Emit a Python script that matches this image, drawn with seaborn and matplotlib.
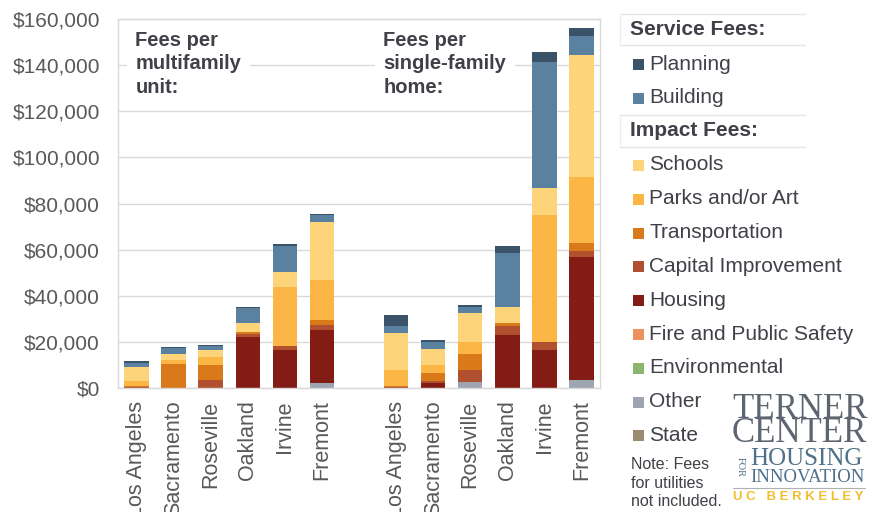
import matplotlib
matplotlib.use("Agg")
import matplotlib.pyplot as plt
import matplotlib.patches as mpatches
import matplotlib.lines as mlines
from matplotlib.ticker import FuncFormatter
import numpy as np
import pandas as pd
import seaborn as sns

# ---------------- data ----------------
cities = ["Los Angeles", "Sacramento", "Roseville", "Oakland", "Irvine", "Fremont"]
slots = ["MF " + c for c in cities] + ["gap"] + ["SF " + c for c in cities]
bar_keys = ["MF " + c for c in cities] + ["SF " + c for c in cities]

# values: 6 multifamily bars, then 6 single-family bars
state = [0, 0, 0, 0, 0, 0, 0, 0, 0, 0, 0, 0]
other = [0, 0, 0, 0, 0, 2200, 0, 0, 2600, 0, 0, 3600]
environmental = [0, 0, 0, 0, 0, 0, 0, 0, 0, 0, 0, 0]
fire = [0, 0, 0, 0, 0, 0, 0, 0, 0, 0, 0, 0]
housing = [0, 0, 0, 22100, 16600, 22800, 0, 2300, 0, 22800, 16600, 53000]
capital = [300, 0, 3500, 1200, 1600, 2200, 300, 600, 5100, 4000, 3300, 2900]
transport = [400, 10300, 6600, 1100, 0, 2200, 400, 3800, 6900, 1300, 0, 3200]
parks = [2200, 1700, 3200, 0, 25600, 17300, 7200, 3200, 5400, 0, 54900, 28600]
schools = [6200, 2900, 3200, 3600, 6500, 25300, 15900, 7200, 12700, 6900, 11800, 53000]
building = [1900, 2300, 1500, 6500, 11300, 2900, 3000, 2900, 2400, 23500, 54600, 8500]
planning = [700, 500, 500, 500, 1000, 600, 5000, 1000, 1000, 3000, 4600, 3200]

stack_order = ["State", "Other", "Environmental", "Fire and Public Safety", "Housing",
               "Capital Improvement", "Transportation", "Parks and/or Art", "Schools",
               "Building", "Planning"]
series = {
    "State": state, "Other": other, "Environmental": environmental,
    "Fire and Public Safety": fire, "Housing": housing,
    "Capital Improvement": capital, "Transportation": transport,
    "Parks and/or Art": parks, "Schools": schools,
    "Building": building, "Planning": planning,
}
colors = {
    "Planning": "#3b5368", "Building": "#5a82a0", "Schools": "#fdd47a",
    "Parks and/or Art": "#fbb645", "Transportation": "#d9791a",
    "Capital Improvement": "#b1502f", "Housing": "#831c14",
    "Fire and Public Safety": "#ec9160", "Environmental": "#8cb66e",
    "Other": "#9ca5b0", "State": "#9b8b70",
}
legend_service = ["Planning", "Building"]
legend_impact = ["Schools", "Parks and/or Art", "Transportation", "Capital Improvement",
                 "Housing", "Fire and Public Safety", "Environmental", "Other", "State"]
ytick_vals = [0, 20000, 40000, 60000, 80000, 100000, 120000, 140000, 160000]

# ---------------- style ----------------
sns.set_theme(style="white")
plt.rcParams["font.family"] = ["Liberation Sans", "DejaVu Sans"]
TXT = "#404048"
TICK = "#595959"
GRID = "#d9d9d9"

fig = plt.figure(figsize=(8.69, 5.12), dpi=100)
ax = fig.add_axes([118 / 869, 1 - 388 / 512, (600 - 118) / 869, (388 - 19) / 512])

# cumulative tops, drawn from the tallest layer down
cum = np.zeros(len(bar_keys))
cums = {}
for name in stack_order:
    cum = cum + np.array(series[name], dtype=float)
    cums[name] = cum.copy()

for name in reversed(stack_order):
    df = pd.DataFrame({"slot": bar_keys, "value": cums[name]})
    sns.barplot(data=df, x="slot", y="value", order=slots, color=colors[name],
                saturation=1, width=0.66, errorbar=None, ax=ax, zorder=2,
                linewidth=0)

ax.set_xlim(-0.5, 12.5)
ax.set_ylim(0, 160000)
ax.set_yticks(ytick_vals)
ax.yaxis.set_major_formatter(FuncFormatter(lambda v, p: f"${v:,.0f}"))
ax.grid(axis="y", color=GRID, linewidth=1, zorder=0)
ax.set_axisbelow(True)
for s in ax.spines.values():
    s.set_color(GRID)
    s.set_linewidth(1)

xt = [i for i, s in enumerate(slots) if s != "gap"]
ax.set_xticks(xt)
ax.set_xticklabels(cities + cities, rotation=90, va="top", ha="center")
ax.tick_params(axis="x", length=0, pad=9, labelsize=15.5, labelcolor=TICK)
ax.tick_params(axis="y", length=0, pad=13, labelsize=15, labelcolor=TICK)
ax.set_xlabel("")
ax.set_ylabel("")

# panel annotations
for xd, label in [(-0.03, "Fees per\nmultifamily\nunit:"), (6.66, "Fees per\nsingle-family\nhome:")]:
    ax.text(xd, 154800, label, ha="left", va="top", fontsize=14.5, fontweight="bold",
            color=TXT, linespacing=1.3, zorder=3,
            bbox=dict(facecolor="white", edgecolor="none", pad=6))

# ---------------- legend (manual) ----------------
W, H = 869, 512

def fx(px):
    return px / W

def fy(py):
    return 1 - py / H

def header(text, ytop, ybot):
    for yy in (ytop, ybot):
        fig.add_artist(mlines.Line2D([fx(620), fx(805)], [fy(yy), fy(yy)],
                                     color="#e4e4e4", lw=1, transform=fig.transFigure))
    fig.add_artist(mlines.Line2D([fx(620), fx(620)], [fy(ytop), fy(ybot)],
                                 color="#eeeeee", lw=1, transform=fig.transFigure))
    fig.text(fx(630), fy((ytop + ybot) / 2), text, fontsize=15, fontweight="bold",
             color=TXT, ha="left", va="center")

def entry(name, yc):
    fig.add_artist(mpatches.Rectangle((fx(633), fy(yc + 6)), fx(11), 11 / H,
                                      facecolor=colors[name], edgecolor="none",
                                      transform=fig.transFigure))
    fig.text(fx(649), fy(yc), name, fontsize=15, color=TXT, ha="left", va="center")

header("Service Fees:", 14, 45)
y0 = 64
for i, n in enumerate(legend_service):
    entry(n, y0 + i * 33.8)
header("Impact Fees:", 115, 147)
y1 = 165
for i, n in enumerate(legend_impact):
    entry(n, y1 + i * 33.8)

fig.text(fx(631), fy(457), "Note: Fees\nfor utilities\nnot included.", fontsize=11.5,
         color=TXT, ha="left", va="top", linespacing=1.3)

# ---------------- logo ----------------
SER = ["Liberation Serif", "DejaVu Serif"]
LG = "#5d6670"
BL = "#4f7189"
fig.text(fx(732), fy(409), "TERNER", family=SER, fontsize=25, color=LG, ha="left", va="center")
fig.text(fx(732), fy(434), "CENTER", family=SER, fontsize=25, color=LG, ha="left", va="center")
fig.text(fx(750), fy(459), "HOUSING", family=SER, fontsize=18, color=BL, ha="left", va="center")
fig.text(fx(750), fy(477), "INNOVATION", family=SER, fontsize=13.5, color=BL, ha="left", va="center")
fig.text(fx(740), fy(467), "FOR", family=SER, fontsize=7.5, color=BL, ha="center", va="center",
         rotation=270)
fig.add_artist(mlines.Line2D([fx(733), fx(865)], [fy(488), fy(488)], color="#b0b0b0", lw=0.8,
                             transform=fig.transFigure))
fig.text(fx(733), fy(497), "U C   B E R K E L E Y", fontsize=9.5, fontweight="bold",
         color="#f0be2e", ha="left", va="center")

fig.savefig("out.png", dpi=100)
